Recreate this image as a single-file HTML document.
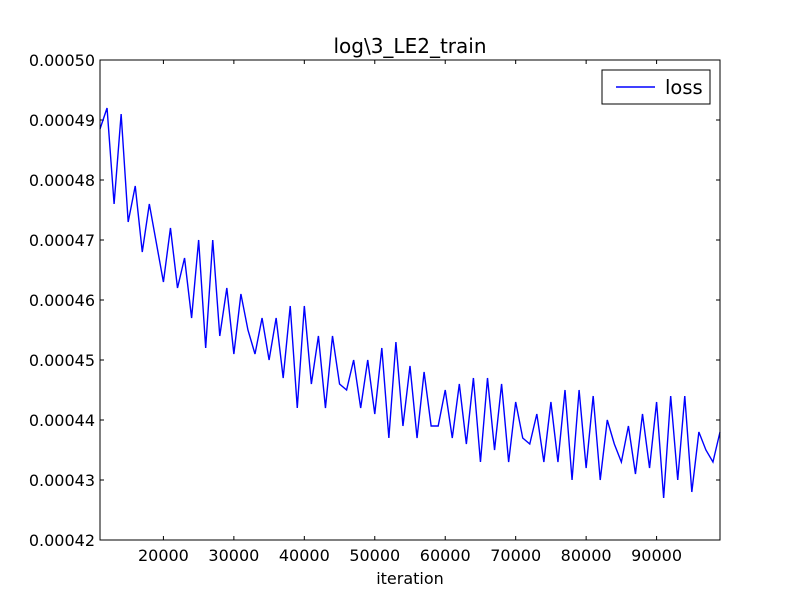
<!DOCTYPE html>
<html><head><meta charset="utf-8"><style>
body{margin:0;background:#fff;}
svg text{font-family:"DejaVu Sans","Liberation Sans",sans-serif;font-size:16px;fill:#000;}
</style></head><body>
<svg id="chart" width="800" height="600">
<rect x="0" y="0" width="800" height="600" fill="#fff"/>
<g id="ticks"></g>
<path id="series" fill="none" stroke="#0000ff" stroke-width="1.4"/>
<rect x="100" y="60" width="620" height="480" fill="none" stroke="#000" stroke-width="1"/>
<text x="410" y="53" text-anchor="middle" style="font-size:20px">log\3_LE2_train</text>
<text x="410" y="584" text-anchor="middle">iteration</text>
<g>
<rect x="602" y="70" width="108" height="34" fill="#fff" stroke="#000" stroke-width="1"/>
<line x1="616" y1="87" x2="655" y2="87" stroke="#0000ff" stroke-width="1.4"/>
<text x="665" y="94" style="font-size:19.5px">loss</text>
</g>
</svg>
<script>
const xStart = 11000;
const xStep = 1000;
const lossValues = [488.5,492,476,491,473,479,468,476,469.5,463,472,462,467,457,470,452,470,454,462,451,461,455,451,457,450,457,447,459,442,459,446,454,442,454,446,445,450,442,450,441,452,437,453,439,449,437,448,439,439,445,437,446,436,447,433,447,435,446,433,443,437,436,441,433,443,433,445,430,445,432,444,430,440,436,433,439,431,441,432,443,427,444,430,444,428,438,435,433,438];
const xTicks = [20000,30000,40000,50000,60000,70000,80000,90000];
const yTicks = ["0.00042","0.00043","0.00044","0.00045","0.00046","0.00047","0.00048","0.00049","0.00050"];
const xMin = 11000, xMax = 99000, yMin = 420, yMax = 500;
const L=100,R=720,T=60,B=540;
function sx(v){return L+(v-xMin)/(xMax-xMin)*(R-L);}
function sy(v){return B-(v-yMin)/(yMax-yMin)*(B-T);}
const NS="http://www.w3.org/2000/svg";
const g=document.getElementById('ticks');
xTicks.forEach(t=>{
  const x=sx(t);
  [[B,B-4],[T,T+4]].forEach(([a,b])=>{
    const l=document.createElementNS(NS,'line');
    l.setAttribute('x1',x);l.setAttribute('x2',x);l.setAttribute('y1',a);l.setAttribute('y2',b);
    l.setAttribute('stroke','#000');
    
    
    g.appendChild(l);
  });
  const tx=document.createElementNS(NS,'text');
  tx.setAttribute('x',x);tx.setAttribute('y',B+21);tx.setAttribute('text-anchor','middle');
  tx.textContent=t;
  
  
  g.appendChild(tx);
});
yTicks.forEach(s=>{
  const v=parseFloat(s)*1e6;
  const y=sy(v);
  [[L,L+4],[R,R-4]].forEach(([a,b])=>{
    const l=document.createElementNS(NS,'line');
    l.setAttribute('x1',a);l.setAttribute('x2',b);l.setAttribute('y1',y);l.setAttribute('y2',y);
    l.setAttribute('stroke','#000');
    
    
    g.appendChild(l);
  });
  const tx=document.createElementNS(NS,'text');
  tx.setAttribute('x',L-5);tx.setAttribute('y',y+6);tx.setAttribute('text-anchor','end');
  tx.textContent=s;
  
  
  g.appendChild(tx);
});
let d='';
lossValues.forEach((v,i)=>{d+=(i?'L':'M')+sx(xStart+i*xStep).toFixed(2)+','+sy(v).toFixed(2);});
document.getElementById('series').setAttribute('d',d);
</script>
</body></html>
